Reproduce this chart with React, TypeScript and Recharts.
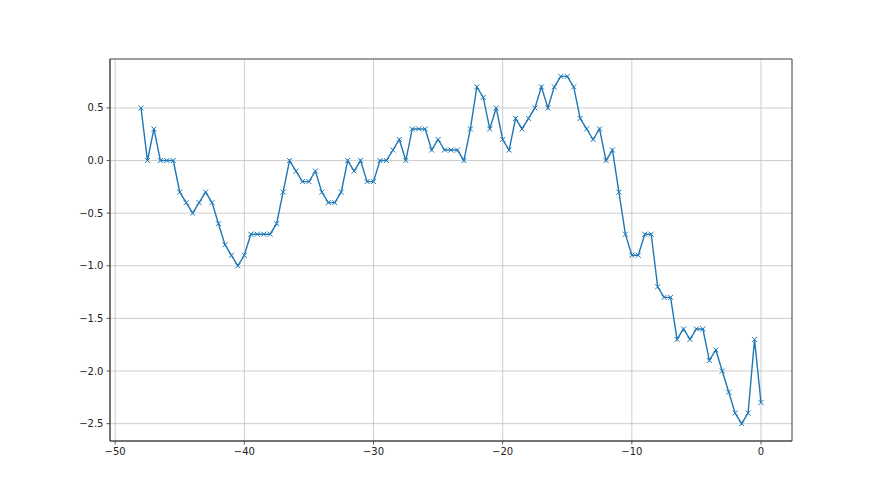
import React from "react";
import { LineChart, Line, XAxis, YAxis, CartesianGrid, ReferenceArea } from "recharts";

const xValues = [
  -48, -47.5, -47, -46.5, -46, -45.5, -45, -44.5, -44, -43.5,
  -43, -42.5, -42, -41.5, -41, -40.5, -40, -39.5, -39, -38.5,
  -38, -37.5, -37, -36.5, -36, -35.5, -35, -34.5, -34, -33.5,
  -33, -32.5, -32, -31.5, -31, -30.5, -30, -29.5, -29, -28.5,
  -28, -27.5, -27, -26.5, -26, -25.5, -25, -24.5, -24, -23.5,
  -23, -22.5, -22, -21.5, -21, -20.5, -20, -19.5, -19, -18.5,
  -18, -17.5, -17, -16.5, -16, -15.5, -15, -14.5, -14, -13.5,
  -13, -12.5, -12, -11.5, -11, -10.5, -10, -9.5, -9, -8.5,
  -8, -7.5, -7, -6.5, -6, -5.5, -5, -4.5, -4, -3.5,
  -3, -2.5, -2, -1.5, -1, -0.5, 0,
];

const yValues = [
  0.5, 0, 0.3, 0, 0, 0, -0.3, -0.4, -0.5, -0.4,
  -0.3, -0.4, -0.6, -0.8, -0.9, -1.0, -0.9, -0.7, -0.7, -0.7,
  -0.7, -0.6, -0.3, 0, -0.1, -0.2, -0.2, -0.1, -0.3, -0.4,
  -0.4, -0.3, 0, -0.1, 0, -0.2, -0.2, 0, 0, 0.1,
  0.2, 0, 0.3, 0.3, 0.3, 0.1, 0.2, 0.1, 0.1, 0.1,
  0, 0.3, 0.7, 0.6, 0.3, 0.5, 0.2, 0.1, 0.4, 0.3,
  0.4, 0.5, 0.7, 0.5, 0.7, 0.8, 0.8, 0.7, 0.4, 0.3,
  0.2, 0.3, 0, 0.1, -0.3, -0.7, -0.9, -0.9, -0.7, -0.7,
  -1.2, -1.3, -1.3, -1.7, -1.6, -1.7, -1.6, -1.6, -1.9, -1.8,
  -2.0, -2.2, -2.4, -2.5, -2.4, -1.7, -2.3,
];

const xTicks = [-50, -40, -30, -20, -10, 0];
const yTicks = [-2.5, -2.0, -1.5, -1.0, -0.5, 0.0, 0.5];

const data = xValues.map((x, i) => ({ x, y: yValues[i] }));

const fmtX = (v: number) => String(v).replace("-", "\u2212");
const fmtY = (v: number) => v.toFixed(1).replace("-", "\u2212");

// matplotlib style 'x' marker
function Cross(props: any) {
  const { cx, cy, index } = props;
  if (cx == null || cy == null) return null;
  const s = 2.5;
  return (
    <path
      key={index}
      d={`M${cx - s},${cy - s}L${cx + s},${cy + s}M${cx - s},${cy + s}L${cx + s},${cy - s}`}
      stroke="#1f77b4"
      strokeWidth={1}
      fill="none"
    />
  );
}

const tickStyle = { fill: "#222", fontSize: 10, fontFamily: "DejaVu Sans" };

export default function App() {
  return (
    <div style={{ position: "absolute", left: 0, top: 0, width: 880, height: 495, background: "#fff" }}>
      <LineChart width={880} height={495} data={data} margin={{ top: 59, right: 88, left: 60, bottom: 24 }}>
        <CartesianGrid stroke="#c0c0c0" strokeWidth={0.8} />
        <XAxis
          dataKey="x"
          type="number"
          domain={[-50.4, 2.4]}
          allowDataOverflow
          ticks={xTicks}
          interval={0}
          tickFormatter={fmtX}
          tick={tickStyle}
          tickSize={3.5}
          tickMargin={3}
          height={30}
          axisLine={{ stroke: "#333", strokeWidth: 0.8 }}
          tickLine={{ stroke: "#333", strokeWidth: 0.8 }}
        />
        <YAxis
          type="number"
          domain={[-2.665, 0.965]}
          allowDataOverflow
          ticks={yTicks}
          interval={0}
          tickFormatter={fmtY}
          tick={tickStyle}
          tickSize={3.5}
          tickMargin={3}
          width={50}
          axisLine={{ stroke: "#333", strokeWidth: 0.8 }}
          tickLine={{ stroke: "#333", strokeWidth: 0.8 }}
        />
        <ReferenceArea
          x1={-50.4}
          x2={2.4}
          y1={-2.665}
          y2={0.965}
          fill="none"
          fillOpacity={0}
          stroke="#333"
          strokeWidth={0.8}
          ifOverflow="visible"
        />
        <Line
          type="linear"
          dataKey="y"
          stroke="#1f77b4"
          strokeWidth={1.4}
          dot={Cross}
          activeDot={false}
          isAnimationActive={false}
        />
      </LineChart>
    </div>
  );
}
